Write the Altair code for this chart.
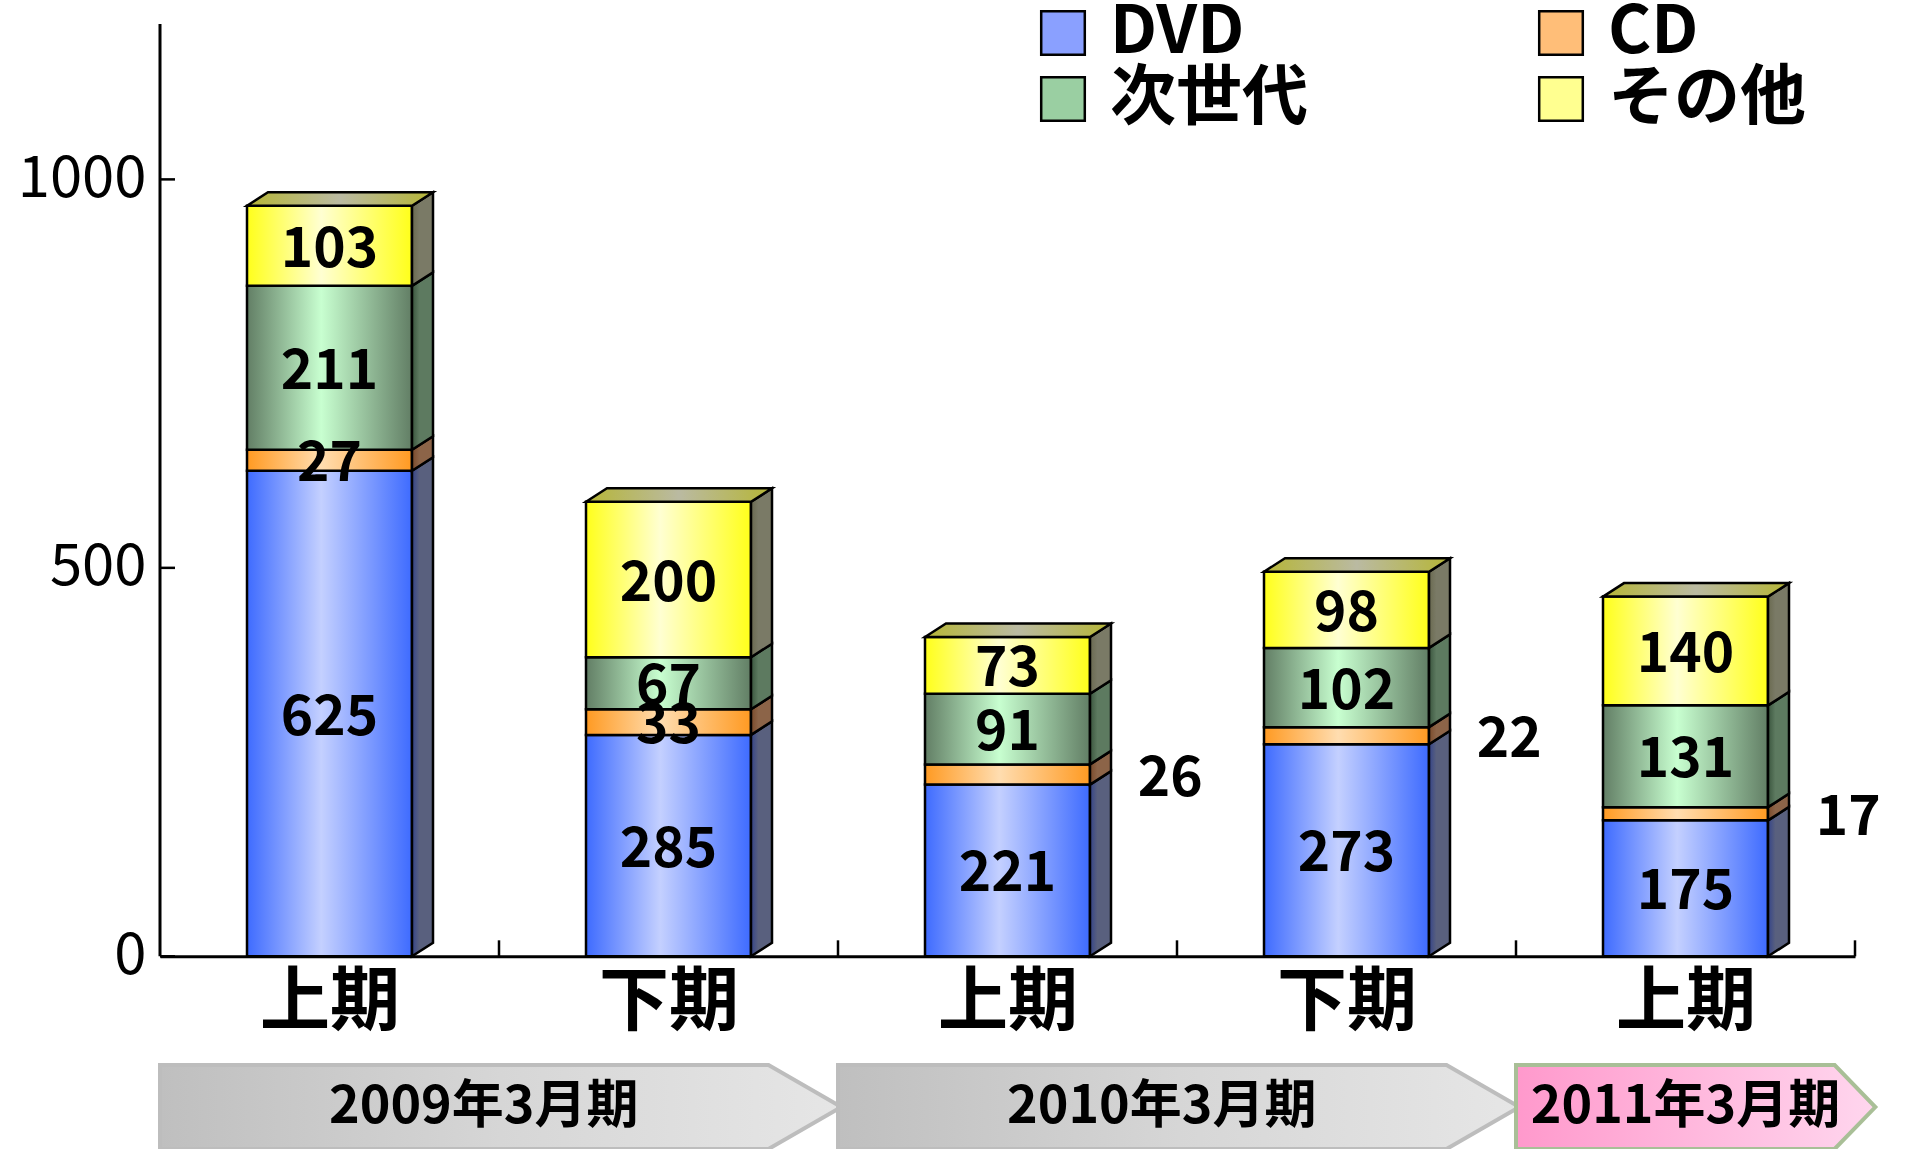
import json
import altair as alt
import pandas as pd

# ---------------- data ----------------
categories = ["上期", "下期", "上期", "下期", "上期"]
series_names = ["DVD", "CD", "次世代", "その他"]
dvd = [625, 285, 221, 273, 175]
cd = [27, 33, 26, 22, 17]
next_gen = [211, 67, 91, 102, 131]
other = [103, 200, 73, 98, 140]
cd_outside = [False, False, True, True, True]
periods = ["2009年3月期", "2010年3月期", "2011年3月期"]
period_start = [0, 2, 4]
period_end = [1, 3, 4]
y_ticks = [0, 500, 1000]

# ---------------- geometry / style ----------------
FONT = "Noto Sans CJK JP"
W, H = 1695, 1125
XMIN, XMAX = -0.5, 4.5
YMIN, YMAX = -248, 1200
PX_X = W / (XMAX - XMIN)
PX_Y = H / (YMAX - YMIN)
HALF_W = 82.5 / PX_X
DX = 21 / PX_X
DY = 13.5 / PX_Y

front_grad = {
    "DVD": ["#3E6BFF", "#C4D0FF", "#3E6BFF"],
    "CD": ["#FF9A22", "#FFDDB0", "#FF9A22"],
    "次世代": ["#627E65", "#C8FFD0", "#627E65"],
    "その他": ["#FFFF1A", "#FFFFD2", "#FFFF1A"],
}
side_grad = {
    "DVD": ["#34448A", "#59607E", "#59607E"],
    "CD": ["#7A4A2A", "#8C6448", "#8C6448"],
    "次世代": ["#3A553E", "#5D7A60", "#5D7A60"],
    "その他": ["#6A6A50", "#7A7A66", "#7A7A66"],
}
legend_colors = ["#8AA0FF", "#FFBE78", "#9ACFA2", "#FFFF90"]


def grad(cols, mid=0.45):
    return alt.Gradient(
        gradient="linear",
        stops=[
            alt.GradientStop(color=cols[0], offset=0),
            alt.GradientStop(color=cols[1], offset=mid),
            alt.GradientStop(color=cols[2], offset=1),
        ],
        x1=0, x2=1, y1=0, y2=0,
    )


# ---------------- tables ----------------
values = {"DVD": dvd, "CD": cd, "次世代": next_gen, "その他": other}
seg_rows, side_rows, top_rows, lab_rows = [], [], [], []
for i in range(len(categories)):
    base = 0
    for s in series_names:
        v = values[s][i]
        y0, y1 = base, base + v
        base = y1
        x0, x1 = i - HALF_W, i + HALF_W
        seg_rows.append(dict(series=s, idx=i, x0=x0, x1=x1, y0=y0, y1=y1))
        face = f"{i}-{s}"
        side_rows.append(dict(series=s, face=face, x=x1, ya=y1, yb=y0))
        side_rows.append(dict(series=s, face=face, x=x1 + DX, ya=y1 + DY, yb=y0 + DY))
        lx = i
        if s == "CD" and cd_outside[i]:
            lx = i + 0.48
        lab_rows.append(dict(series=s, x=lx, y=(y0 + y1) / 2, text=str(v)))
    T = base
    face = f"top{i}"
    L, R = i - HALF_W, i + HALF_W
    top_rows += [
        dict(face=face, x=L, ya=T, yb=T),
        dict(face=face, x=L + DX, ya=T + DY, yb=T),
        dict(face=face, x=R, ya=T + DY, yb=T),
        dict(face=face, x=R + DX, ya=T + DY, yb=T + DY),
    ]

seg_df = pd.DataFrame(seg_rows)
side_df = pd.DataFrame(side_rows)
top_df = pd.DataFrame(top_rows)
lab_df = pd.DataFrame(lab_rows)

B_TOP, B_MID, B_BOT = -140, -194, YMIN
ban_rows, ban_txt = [], []
for k, p in enumerate(periods):
    last = k == len(periods) - 1
    x0 = period_start[k] - 0.5
    xt = period_end[k] + 0.5 + (0.06 if last else 0.01)
    xf = xt - (0.12 if last else 0.215)
    for xx, ya, yb in [(x0, B_TOP, B_BOT), (xf, B_TOP, B_BOT), (xt, B_MID, B_MID)]:
        ban_rows.append(dict(period=p, hl=last, x=xx, ya=ya, yb=yb))
    cx = (period_start[k] + period_end[k]) / 2 - (0.0 if last else 0.045)
    ban_txt.append(dict(period=p, x=cx, y=B_MID))
ban_df = pd.DataFrame(ban_rows)
ban_txt_df = pd.DataFrame(ban_txt)

yline_df = pd.DataFrame([dict(x=XMIN, y=0, y2=YMAX)])
xtick_df = pd.DataFrame([dict(x=i + 0.5, y=0, y2=16 / PX_Y) for i in range(len(categories))])
ytick_df = pd.DataFrame([dict(x=XMIN, x2=XMIN + 15 / PX_X, y=t) for t in y_ticks])

# ---------------- scales / axes ----------------
xs = alt.Scale(domain=[XMIN, XMAX], nice=False, zero=False)
ys = alt.Scale(domain=[YMIN, YMAX], nice=False, zero=False)
x_axis = alt.Axis(
    values=list(range(len(categories))),
    labelExpr=json.dumps(categories, ensure_ascii=False) + "[datum.value]",
    title=None, offset=-(0 - YMIN) * PX_Y, domain=True, domainColor="black",
    domainWidth=3, ticks=False, grid=False, labelFont=FONT, labelFontSize=70,
    labelFontWeight="bold", labelColor="black", labelPadding=13,
    labelFlush=False, labelOverlap=False,
)
y_axis = alt.Axis(
    values=y_ticks, format="d", title=None, domain=False, ticks=False, grid=False,
    labelFont=FONT, labelFontSize=58, labelColor="black", labelPadding=14,
)


def X(f):
    return alt.X(f, type="quantitative", scale=xs, axis=x_axis)


def Y(f):
    return alt.Y(f, type="quantitative", scale=ys, axis=y_axis)


layers = []

# banners
for hl, cols, stroke in [(False, ["#BFBFBF", "#D6D6D6", "#E6E6E6"], "#BDBDBD"),
                         (True, ["#FF99CC", "#FFB8DD", "#FFD6EE"], "#A9BF97")]:
    layers.append(
        alt.Chart(ban_df).transform_filter(alt.datum.hl == hl)
        .mark_area(fill=grad(cols, 0.5), stroke=stroke, strokeWidth=4)
        .encode(x=X("x"), y=Y("ya"), y2="yb", detail="period:N")
    )
layers.append(
    alt.Chart(ban_txt_df).mark_text(font=FONT, fontSize=52, fontWeight="bold",
                                    color="black", baseline="middle", align="center")
    .encode(x=X("x"), y=Y("y"), text="period:N")
)

# front faces
for s in series_names:
    layers.append(
        alt.Chart(seg_df).transform_filter(alt.datum.series == s)
        .mark_rect(fill=grad(front_grad[s]), stroke="black", strokeWidth=2.5)
        .encode(x=X("x0"), x2="x1", y=Y("y0"), y2="y1")
    )
# side faces
for s in series_names:
    layers.append(
        alt.Chart(side_df).transform_filter(alt.datum.series == s)
        .mark_area(fill=grad(side_grad[s], 0.35), stroke="black", strokeWidth=2.5)
        .encode(x=X("x"), y=Y("ya"), y2="yb", detail="face:N")
    )
# top faces
layers.append(
    alt.Chart(top_df)
    .mark_area(fill=grad(["#B6B636", "#BABAA2", "#B6B636"], 0.5), stroke="black", strokeWidth=2.5)
    .encode(x=X("x"), y=Y("ya"), y2="yb", detail="face:N")
)

# axis lines and inward ticks
layers.append(alt.Chart(yline_df).mark_rule(color="black", strokeWidth=3)
              .encode(x=X("x"), y=Y("y"), y2="y2"))
layers.append(alt.Chart(xtick_df).mark_rule(color="black", strokeWidth=2.5)
              .encode(x=X("x"), y=Y("y"), y2="y2"))
layers.append(alt.Chart(ytick_df).mark_rule(color="black", strokeWidth=2.5)
              .encode(x=X("x"), x2="x2", y=Y("y")))

# value labels
layers.append(
    alt.Chart(lab_df).mark_text(font=FONT, fontSize=55, fontWeight="bold", color="black",
                                baseline="middle", align="center", dy=4)
    .encode(x=X("x"), y=Y("y"), text="text:N")
)

# legend carrier (zero-size rects)
layers.append(
    alt.Chart(seg_df).mark_rect(strokeWidth=0)
    .encode(
        x=X("x0"), x2="x0", y=Y("y0"), y2="y0",
        color=alt.Color(
            "series:N",
            scale=alt.Scale(domain=series_names, range=legend_colors),
            legend=alt.Legend(
                title=None, orient="none", legendX=870, legendY=-24, columns=2,
                direction="horizontal",
                symbolType="square", symbolSize=1900, symbolStrokeColor="black",
                symbolStrokeWidth=2.5, symbolOpacity=1, labelFont=FONT, labelFontSize=66,
                labelFontWeight="bold", labelColor="black", labelOffset=14,
                columnPadding=220, rowPadding=0, labelLimit=0,
            ),
        ),
    )
)

chart = (
    alt.layer(*layers)
    .properties(
        width=W, height=H,
        autosize=alt.AutoSizeParams(type="none"),
        padding={"left": 160, "top": 24, "right": 57, "bottom": 0},
        background="white",
    )
    .configure_view(stroke=None)
)

chart.save("out.html", embed_options={"renderer": "svg", "actions": False})
